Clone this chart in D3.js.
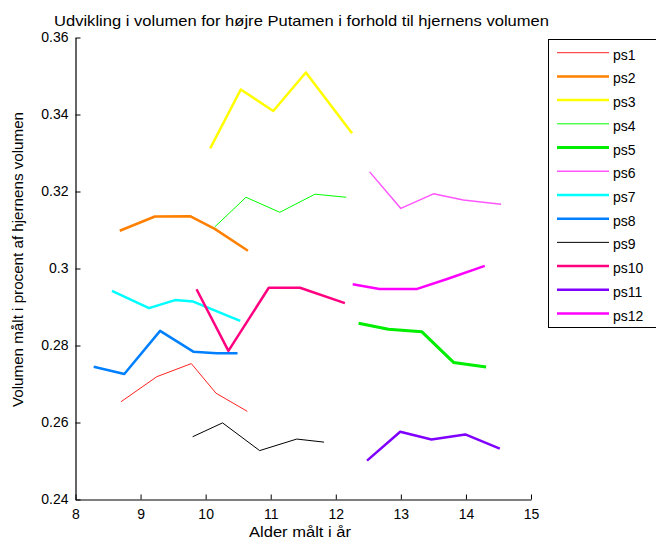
<!DOCTYPE html>
<html>
<head>
<meta charset="utf-8">
<script src="https://cdn.jsdelivr.net/npm/d3@7"></script>
<style>
  body { margin: 0; background: #fff; }
  text { font-family: "Liberation Sans", Arial, sans-serif; fill: #000; }
</style>
</head>
<body>
<div id="chart"></div>
<script>
// data
var seriesNames = ["ps1", "ps2", "ps3", "ps4", "ps5", "ps6", "ps7", "ps8", "ps9", "ps10", "ps11", "ps12"];

// age (years) of each measurement, per subject
var ages = [
  [8.70, 9.25, 9.78, 10.16, 10.64],
  [8.68, 9.22, 9.76, 10.14, 10.65],
  [10.07, 10.54, 11.04, 11.54, 12.25],
  [10.14, 10.62, 11.14, 11.68, 12.16],
  [12.35, 12.81, 13.32, 13.81, 14.31],
  [12.52, 13.00, 13.50, 13.96, 14.54],
  [8.56, 9.13, 9.53, 9.81, 10.53],
  [8.28, 8.75, 9.30, 9.81, 10.17, 10.49],
  [9.80, 10.26, 10.83, 11.40, 11.82],
  [9.86, 10.35, 10.97, 11.45, 12.14],
  [12.48, 12.99, 13.47, 13.99, 14.52],
  [12.26, 12.67, 13.25, 13.70, 14.29]
];

// right putamen volume in percent of brain volume
var volumes = [
  [0.2654, 0.2719, 0.2753, 0.2676, 0.2629],
  [0.3098, 0.3135, 0.3136, 0.3103, 0.3046],
  [0.3312, 0.3465, 0.3409, 0.3509, 0.3351],
  [0.3108, 0.3185, 0.3146, 0.3193, 0.3185],
  [0.2858, 0.2842, 0.2836, 0.2756, 0.2744],
  [0.3251, 0.3156, 0.3194, 0.3178, 0.3167],
  [0.2942, 0.2897, 0.2918, 0.2914, 0.2864],
  [0.2745, 0.2726, 0.2838, 0.2784, 0.2780, 0.2780],
  [0.2563, 0.2599, 0.2527, 0.2557, 0.2549],
  [0.2946, 0.2786, 0.2950, 0.2950, 0.2910],
  [0.2501, 0.2576, 0.2556, 0.2569, 0.2532],
  [0.2959, 0.2947, 0.2947, 0.2972, 0.3007]
];

var xTicks = [8, 9, 10, 11, 12, 13, 14, 15];
var yTicks = [0.24, 0.26, 0.28, 0.3, 0.32, 0.34, 0.36];

// look of each line
var colors = ["#ff2020", "#ff8000", "#ffff00", "#00ff00", "#00ee00", "#ff55ff",
              "#00ffff", "#0080ff", "#000000", "#ff0080", "#8000ff", "#ff00ff"];
var widths = [1, 2.5, 2.5, 1, 3, 1.5, 2.5, 2.5, 1, 2.5, 2.5, 2.5];

var W = 656, H = 548;
var x = d3.scaleLinear().domain([8, 15]).range([75.5, 531]);
var y = d3.scaleLinear().domain([0.24, 0.36]).range([499.5, 37.5]);

var svg = d3.select("#chart").append("svg")
  .attr("width", W).attr("height", H);

// lines
var line = d3.line()
  .x(function(d) { return x(d[0]); })
  .y(function(d) { return y(d[1]); });

seriesNames.forEach(function(name, i) {
  var pts = ages[i].map(function(a, j) { return [a, volumes[i][j]]; });
  svg.append("path")
    .datum(pts)
    .attr("d", line)
    .attr("fill", "none")
    .attr("stroke", colors[i])
    .attr("stroke-width", widths[i])
    .attr("stroke-linejoin", "round");
});

// axes, ticks inside
var xAxis = svg.append("g")
  .attr("transform", "translate(0," + y(0.24) + ")")
  .call(d3.axisBottom(x).tickValues(xTicks).tickSize(-5).tickSizeOuter(0).tickPadding(10)
    .tickFormat(d3.format("d")));
var yAxis = svg.append("g")
  .attr("transform", "translate(" + x(8) + ",0)")
  .call(d3.axisLeft(y).tickValues(yTicks).tickSize(-5).tickSizeOuter(0).tickPadding(7)
    .tickFormat(function(d) { return String(+d.toFixed(2)); }));

[xAxis, yAxis].forEach(function(g) {
  g.select(".domain").attr("stroke", "#000").attr("stroke-width", 1.2);
  g.selectAll(".tick line").attr("stroke", "#000");
  g.selectAll(".tick text")
    .style("font-family", "'Liberation Sans', Arial, sans-serif")
    .style("font-size", "14px").attr("fill", "#000");
});

// titles
svg.append("text")
  .attr("x", 301.5).attr("y", 26)
  .attr("text-anchor", "middle")
  .attr("textLength", 495).attr("lengthAdjust", "spacingAndGlyphs")
  .style("font-size", "15px")
  .text("Udvikling i volumen for højre Putamen i forhold til hjernens volumen");

svg.append("text")
  .attr("x", 300).attr("y", 537)
  .attr("text-anchor", "middle")
  .attr("textLength", 102).attr("lengthAdjust", "spacingAndGlyphs")
  .style("font-size", "14px")
  .text("Alder målt i år");

svg.append("text")
  .attr("transform", "translate(23,259.5) rotate(-90)")
  .attr("text-anchor", "middle")
  .attr("textLength", 295).attr("lengthAdjust", "spacingAndGlyphs")
  .style("font-size", "14px")
  .text("Volumen målt i procent af hjernens volumen");

// legend
var legend = svg.append("g");
legend.append("rect")
  .attr("x", 548.5).attr("y", 39.5)
  .attr("width", 120).attr("height", 288)
  .attr("fill", "#fff").attr("stroke", "#000").attr("stroke-width", 1);

var rowY = d3.scaleLinear().domain([0, 11]).range([52.7, 313.5]);
seriesNames.forEach(function(name, i) {
  legend.append("line")
    .attr("x1", 557).attr("x2", 609)
    .attr("y1", rowY(i)).attr("y2", rowY(i))
    .attr("stroke", colors[i])
    .attr("stroke-width", widths[i]);
  legend.append("text")
    .attr("x", 613).attr("y", rowY(i) + 7)
    .style("font-size", "14px")
    .text(name);
});
</script>
</body>
</html>
